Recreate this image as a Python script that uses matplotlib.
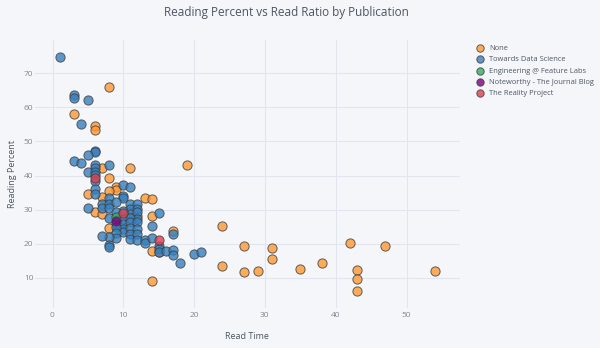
import matplotlib.pyplot as plt

plt.rcParams['font.family'] = ['Open Sans', 'DejaVu Sans']

# read time (minutes) and reading percent per article, grouped by publication
none_time = [8, 3, 6, 6, 19, 7, 11, 8, 9, 9, 5, 8, 7, 13, 14, 6, 7, 14, 12, 8,
             17, 14, 15, 14, 24, 24, 27, 27, 29, 31, 31, 35, 38, 42, 43, 43, 43,
             47, 54]
none_pct = [66, 58, 54.5, 53.2, 43, 42.2, 42.2, 39.3, 36.6, 35.9, 34.7, 35.4,
            33.7, 33.5, 33, 29.2, 28.7, 28, 28, 24.5, 23.8, 18, 17.5, 9.1, 25.3,
            13.5, 19.4, 11.8, 12, 18.8, 15.6, 12.6, 14.3, 20.3, 12.2, 9.7, 6.2,
            19.4, 12]

tds_time = [1, 3, 3, 5, 4, 6, 6, 5, 3, 4, 6, 6, 8, 5, 6, 6, 6, 6, 6, 10, 11, 10,
            10, 8, 7, 7, 8, 8, 9, 5, 11, 12, 11, 12, 11, 12, 12, 10, 9, 8, 9, 10,
            10, 10, 10, 9, 9, 9, 8, 7, 8, 8, 11, 11, 11, 11, 11, 12, 12, 12, 12,
            13, 13, 14, 14, 15, 15, 15, 15, 16, 17, 17, 17, 18, 20, 21]
tds_pct = [74.6, 63.5, 62.8, 62, 55.2, 47.3, 46.8, 46, 44.4, 43.7, 43.1, 42.1,
           43, 40.9, 40.9, 40.1, 38.4, 36.2, 34.5, 37.2, 36.7, 34.1, 33.4, 33.4,
           31.6, 30.6, 31.6, 30.6, 32.2, 30.4, 31.6, 31.6, 30.1, 30.1, 28.7,
           29.2, 27.2, 29.7, 29.4, 27.5, 26.1, 27.2, 25.8, 24.4, 23.6, 24.8,
           23.3, 21.8, 21.9, 22.3, 19.7, 19, 27.5, 26.3, 24.6, 23, 21.3, 26.3,
           24.3, 22.8, 21.2, 21.1, 20.3, 21.8, 25.3, 28.9, 19.4, 18.5, 17.6,
           17.8, 22.8, 18.3, 16.6, 14.5, 16.9, 17.7]

efl_time = [9]
efl_pct = [27.9]

note_time = [9]
note_pct = [26.6]

reality_time = [6, 10, 15]
reality_pct = [39.2, 29, 21.1]

series = [
    ('None', none_time, none_pct, '#ff9933'),
    ('Towards Data Science', tds_time, tds_pct, '#3780bf'),
    ('Engineering @ Feature Labs', efl_time, efl_pct, '#32ab60'),
    ('Noteworthy - The Journal Blog', note_time, note_pct, '#800080'),
    ('The Reality Project', reality_time, reality_pct, '#db4052'),
]

bg = '#f5f6f9'
grid = '#e1e5ed'
txt = '#4d5663'

fig = plt.figure(figsize=(6, 3.48), dpi=100, facecolor=bg)
ax = fig.add_axes([0.058, 0.115, 0.708, 0.77], facecolor=bg)

for name, x, y, c in series:
    ax.scatter(x, y, s=44, color=c, alpha=0.8, edgecolors='#3d3d3d',
               linewidths=0.7, label=name, zorder=3)

ax.set_xlim(-2.5, 57.5)
ax.set_ylim(1.2, 79.7)
ax.set_xticks([0, 10, 20, 30, 40, 50])
ax.set_yticks([10, 20, 30, 40, 50, 60, 70])
ax.grid(True, color=grid, linewidth=0.8, zorder=0)
for s in ax.spines.values():
    s.set_visible(False)
ax.tick_params(length=0, labelsize=6, colors='#7f8793')
ax.tick_params(axis='x', pad=3)
ax.tick_params(axis='y', pad=1)

ax.set_xlabel('Read Time', fontsize=6.5, color=txt, labelpad=9)
ax.set_ylabel('Reading Percent', fontsize=6.5, color=txt)
ax.yaxis.set_label_coords(-0.043, 0.5)
fig.text(0.477, 0.965, 'Reading Percent vs Read Ratio by Publication',
         fontsize=8.5, color=txt, ha='center', va='center')

ax.legend(loc='upper left', bbox_to_anchor=(1.02, 1.0), frameon=False,
          fontsize=5.4, labelcolor=txt, handletextpad=0.25, labelspacing=0.55,
          borderaxespad=0.2, markerscale=0.8)

fig.savefig('out.png', dpi=100, facecolor=bg)
